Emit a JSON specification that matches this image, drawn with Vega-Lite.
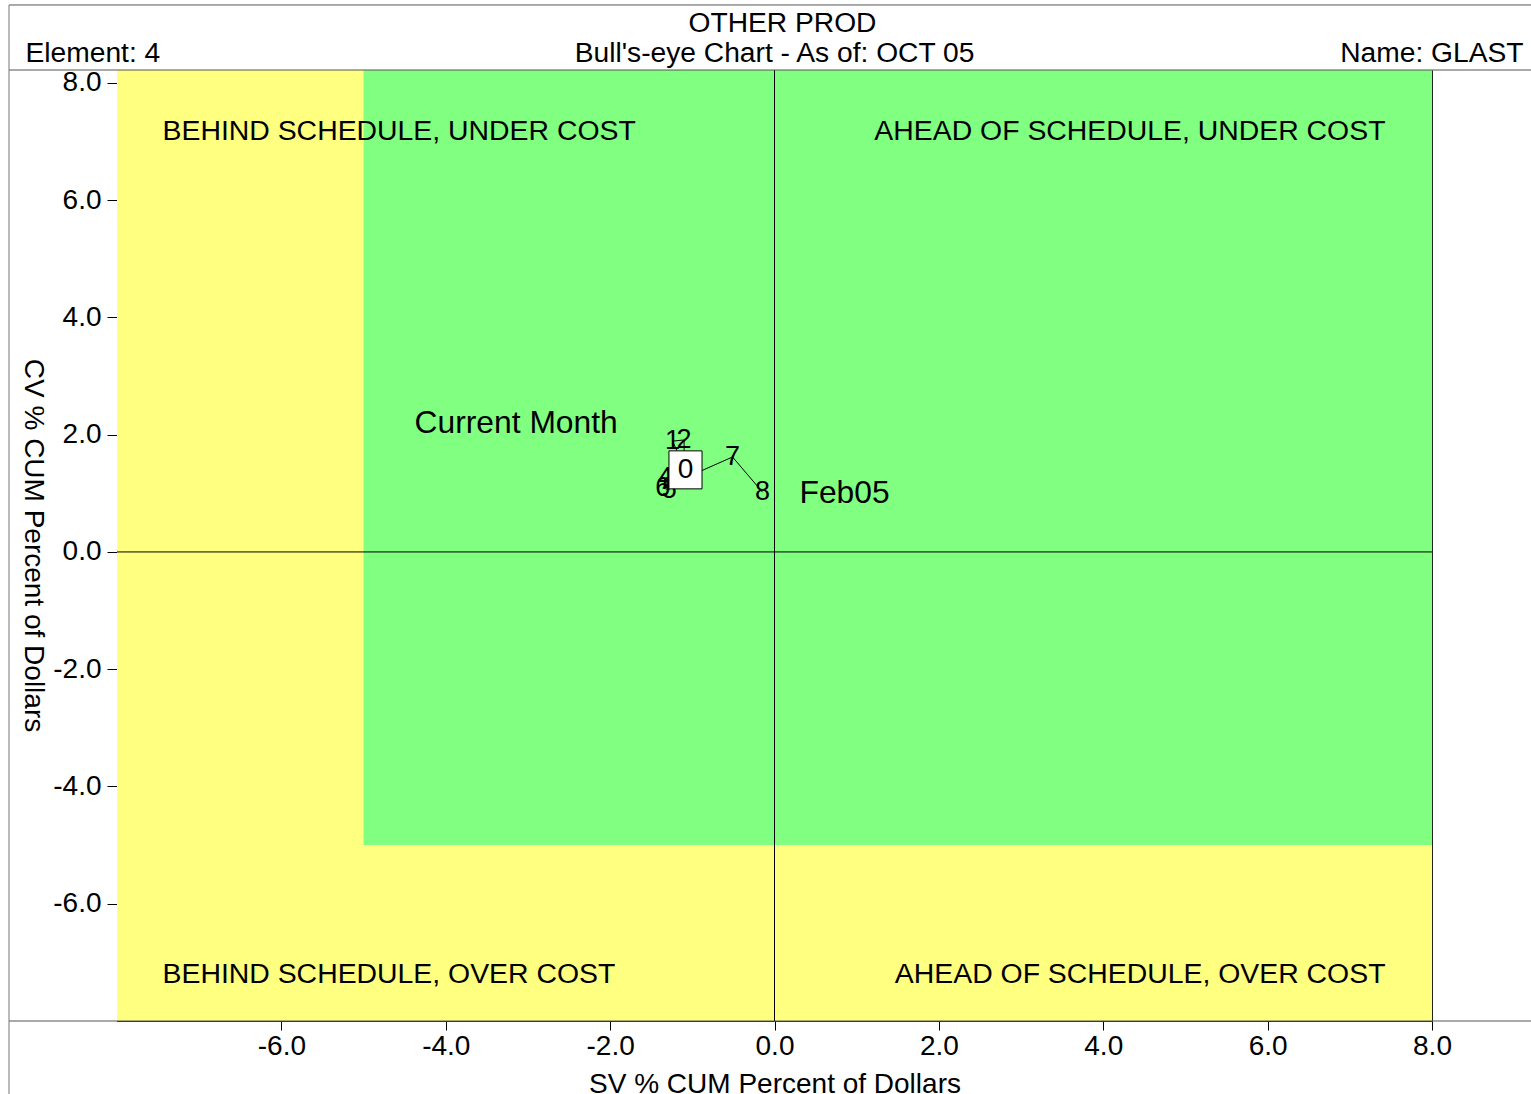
{
  "$schema": "https://vega.github.io/schema/vega-lite/v6.json",
  "width": 1315,
  "height": 951,
  "autosize": {"type": "none"},
  "padding": {"left": 117, "top": 70, "right": 99, "bottom": 73},
  "background": "white",
  "config": {
    "font": "Liberation Sans",
    "view": {"stroke": "#222", "strokeWidth": 1},
    "axis": {"grid": false, "labelFont": "Liberation Sans", "titleFont": "Liberation Sans", "labelColor": "black", "titleColor": "black", "tickColor": "black", "domainColor": "black", "labelFontSize": 28, "titleFontSize": 28, "titleFontWeight": "normal"}
  },
  "datasets": {
    "zones": [
      {"zone": "yellow", "x1": -8, "x2": 8, "y1": -8, "y2": 8.22},
      {"zone": "green", "x1": -5, "x2": 8, "y1": -5, "y2": 8.22}
    ],
    "points": [
      {"seq": 1, "sv": -0.146, "cv": 1.02, "label": "8"},
      {"seq": 2, "sv": -0.511, "cv": 1.62, "label": "7"},
      {"seq": 3, "sv": -1.36, "cv": 1.09, "label": "6"},
      {"seq": 4, "sv": -1.28, "cv": 1.06, "label": "5"},
      {"seq": 5, "sv": -1.33, "cv": 1.26, "label": "4"},
      {"seq": 6, "sv": -1.10, "cv": 1.33, "label": "3"},
      {"seq": 7, "sv": -1.10, "cv": 1.91, "label": "2"},
      {"seq": 8, "sv": -1.24, "cv": 1.89, "label": "1"},
      {"seq": 9, "sv": -1.083, "cv": 1.40, "label": "0"}
    ],
    "notesLeft": [
      {"x": -7.446, "y": 7.18, "text": "BEHIND SCHEDULE, UNDER COST"},
      {"x": -7.446, "y": -7.2, "text": "BEHIND SCHEDULE, OVER COST"}
    ],
    "notesRight": [
      {"x": 7.434, "y": 7.18, "text": "AHEAD OF SCHEDULE, UNDER COST"},
      {"x": 7.434, "y": -7.2, "text": "AHEAD OF SCHEDULE, OVER COST"}
    ],
    "markers": [
      {"x": -4.38, "y": 2.2, "text": "Current Month"},
      {"x": 0.304, "y": 1.006, "text": "Feb05"}
    ],
    "headCenter": [
      {"x": 0.097, "y": 9.006, "text": "OTHER PROD"},
      {"x": 0, "y": 8.494, "text": "Bull's-eye Chart - As of: OCT 05"}
    ],
    "headLeft": [{"x": -9.113, "y": 8.494, "text": "Element: 4"}],
    "headRight": [{"x": 9.113, "y": 8.494, "text": "Name: GLAST"}],
    "hframe": [
      {"x1": -9.314, "x2": 9.205, "y": 9.329},
      {"x1": -9.314, "x2": 9.205, "y": 8.22},
      {"x1": -9.314, "x2": 9.205, "y": -8}
    ],
    "vframe": [
      {"x": -9.314, "y1": -9.245, "y2": 9.329}
    ]
  },
  "layer": [
    {
      "data": {"name": "zones"},
      "mark": {"type": "rect", "stroke": null},
      "encoding": {
        "x": {"field": "x1", "type": "quantitative", "scale": {"domain": [-8, 8], "nice": false, "zero": false},
          "axis": {"values": [-6, -4, -2, 0, 2, 4, 6, 8], "labelExpr": "(datum.value < 0 ? '-' : '') + format(abs(datum.value), '.1f')", "title": "SV % CUM Percent of Dollars", "domain": false, "tickSize": 9, "labelPadding": 2, "titlePadding": 10, "labelFlush": false}},
        "x2": {"field": "x2"},
        "y": {"field": "y1", "type": "quantitative", "scale": {"domain": [-8, 8.22], "nice": false, "zero": false},
          "axis": {"values": [-6, -4, -2, 0, 2, 4, 6, 8], "labelExpr": "(datum.value < 0 ? '-' : '') + format(abs(datum.value), '.1f')", "title": "CV % CUM Percent of Dollars", "tickSize": 10, "labelPadding": 6, "titleAngle": 90, "titleX": -85, "titleY": 475, "titleAlign": "center", "titleBaseline": "middle", "labelFlush": false}},
        "y2": {"field": "y2"},
        "color": {"field": "zone", "type": "nominal", "scale": {"domain": ["yellow", "green"], "range": ["#FFFF80", "#80FF80"]}, "legend": null}
      }
    },
    {
      "data": {"values": [{"v": 0}]},
      "mark": {"type": "rule", "color": "black", "strokeWidth": 1},
      "encoding": {"x": {"field": "v", "type": "quantitative"}}
    },
    {
      "data": {"values": [{"v": 0}]},
      "mark": {"type": "rule", "color": "black", "strokeWidth": 1},
      "encoding": {"y": {"field": "v", "type": "quantitative"}}
    },
    {
      "data": {"name": "hframe"},
      "mark": {"type": "rule", "color": "#555", "strokeWidth": 1, "clip": false},
      "encoding": {"x": {"field": "x1", "type": "quantitative"}, "x2": {"field": "x2"}, "y": {"field": "y", "type": "quantitative"}}
    },
    {
      "data": {"name": "vframe"},
      "mark": {"type": "rule", "color": "#777", "strokeWidth": 1, "clip": false},
      "encoding": {"x": {"field": "x", "type": "quantitative"}, "y": {"field": "y1", "type": "quantitative"}, "y2": {"field": "y2"}}
    },
    {
      "data": {"name": "points"},
      "mark": {"type": "line", "color": "black", "strokeWidth": 1},
      "encoding": {"x": {"field": "sv", "type": "quantitative"}, "y": {"field": "cv", "type": "quantitative"}, "order": {"field": "seq"}}
    },
    {
      "data": {"name": "points"},
      "transform": [{"filter": "datum.label != '0'"}],
      "mark": {"type": "text", "fontSize": 27, "align": "center", "baseline": "middle", "color": "black"},
      "encoding": {"x": {"field": "sv", "type": "quantitative"}, "y": {"field": "cv", "type": "quantitative"}, "text": {"field": "label"}}
    },
    {
      "data": {"name": "points"},
      "transform": [{"filter": "datum.label == '0'"}],
      "mark": {"type": "point", "shape": "M-0.87,-1L0.87,-1L0.87,1L-0.87,1Z", "size": 1444, "filled": true, "fill": "white", "stroke": "black", "strokeWidth": 1, "opacity": 1},
      "encoding": {"x": {"field": "sv", "type": "quantitative"}, "y": {"field": "cv", "type": "quantitative"}}
    },
    {
      "data": {"name": "points"},
      "transform": [{"filter": "datum.label == '0'"}],
      "mark": {"type": "text", "fontSize": 28, "align": "center", "baseline": "middle", "color": "black"},
      "encoding": {"x": {"field": "sv", "type": "quantitative"}, "y": {"field": "cv", "type": "quantitative"}, "text": {"field": "label"}}
    },
    {
      "data": {"name": "notesLeft"},
      "mark": {"type": "text", "fontSize": 28.4, "align": "left", "baseline": "middle", "color": "black"},
      "encoding": {"x": {"field": "x", "type": "quantitative"}, "y": {"field": "y", "type": "quantitative"}, "text": {"field": "text"}}
    },
    {
      "data": {"name": "notesRight"},
      "mark": {"type": "text", "fontSize": 28.4, "align": "right", "baseline": "middle", "color": "black"},
      "encoding": {"x": {"field": "x", "type": "quantitative"}, "y": {"field": "y", "type": "quantitative"}, "text": {"field": "text"}}
    },
    {
      "data": {"name": "markers"},
      "mark": {"type": "text", "fontSize": 31.8, "align": "left", "baseline": "middle", "color": "black"},
      "encoding": {"x": {"field": "x", "type": "quantitative"}, "y": {"field": "y", "type": "quantitative"}, "text": {"field": "text"}}
    },
    {
      "data": {"name": "headCenter"},
      "mark": {"type": "text", "fontSize": 28.2, "align": "center", "baseline": "middle", "color": "black", "clip": false},
      "encoding": {"x": {"field": "x", "type": "quantitative"}, "y": {"field": "y", "type": "quantitative"}, "text": {"field": "text"}}
    },
    {
      "data": {"name": "headLeft"},
      "mark": {"type": "text", "fontSize": 28.2, "align": "left", "baseline": "middle", "color": "black", "clip": false},
      "encoding": {"x": {"field": "x", "type": "quantitative"}, "y": {"field": "y", "type": "quantitative"}, "text": {"field": "text"}}
    },
    {
      "data": {"name": "headRight"},
      "mark": {"type": "text", "fontSize": 28.2, "align": "right", "baseline": "middle", "color": "black", "clip": false},
      "encoding": {"x": {"field": "x", "type": "quantitative"}, "y": {"field": "y", "type": "quantitative"}, "text": {"field": "text"}}
    }
  ]
}
